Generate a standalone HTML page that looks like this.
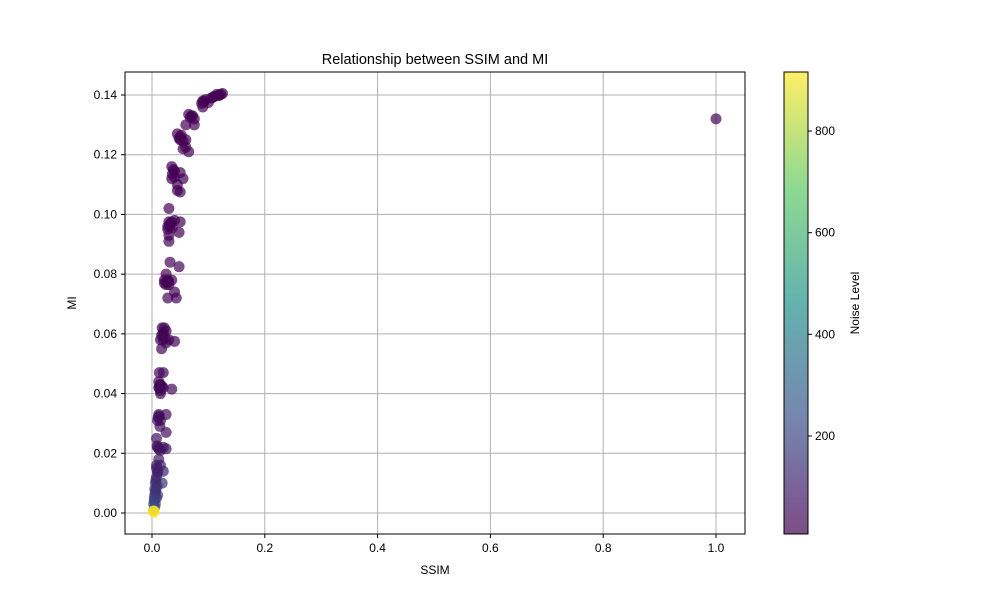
<!DOCTYPE html>
<html><head><meta charset="utf-8"><style>
body{margin:0;background:#fff;font-family:"Liberation Sans",sans-serif;}
</style></head><body>
<svg id="chart" width="1000" height="600" xmlns="http://www.w3.org/2000/svg">
<defs><linearGradient id="vir" x1="0" y1="1" x2="0" y2="0">
<stop offset="0" stop-color="#440154"/><stop offset="0.25" stop-color="#3b528b"/><stop offset="0.5" stop-color="#21918c"/><stop offset="0.75" stop-color="#5ec962"/><stop offset="1" stop-color="#fde725"/></linearGradient></defs>
<text x="435" y="64" font-size="14.5" text-anchor="middle">Relationship between SSIM and MI</text>
<g id="grid"></g>
<g id="pts"></g>
<rect x="125" y="72" width="620" height="462" fill="none" stroke="#000" stroke-width="1"/>
<g id="ticks" font-size="12"></g>
<text x="435" y="574" font-size="12" text-anchor="middle">SSIM</text>
<text x="76" y="303" font-size="12" text-anchor="middle" transform="rotate(-90 76 303)">MI</text>
<rect x="784" y="72" width="24" height="462" fill="url(#vir)" opacity="0.7"/>
<rect x="784" y="72" width="24" height="462" fill="none" stroke="#000" stroke-width="1"/>
<g id="cbticks" font-size="12"></g>
<text x="859" y="303" font-size="12" text-anchor="middle" transform="rotate(-90 859 303)">Noise Level</text>
</svg>
<script>
const ssim=[0.12,0.125,0.115,0.11,0.105,0.09,0.095,0.1,0.09,0.07,0.065,0.075,0.06,0.075,0.045,0.05,0.05,0.055,0.06,0.055,0.06,0.065,0.035,0.038,0.05,0.035,0.04,0.055,0.045,0.045,0.05,0.03,0.03,0.035,0.04,0.05,0.028,0.032,0.048,0.03,0.03,0.032,0.048,0.025,0.022,0.028,0.035,0.025,0.03,0.04,0.028,0.043,0.018,0.022,0.025,0.02,0.015,0.02,0.03,0.04,0.025,0.017,0.013,0.02,0.012,0.015,0.013,0.02,0.035,0.015,0.012,0.025,0.01,0.015,0.014,0.025,0.008,0.01,0.02,0.025,0.015,0.012,0.008,0.015,0.01,0.02,0.008,0.006,0.018,0.007,0.005,0.01,0.004,1.0,
0.118,0.122,0.108,0.092,0.088,0.068,0.072,0.048,0.052,0.036,0.04,0.033,0.028,0.032,0.036,0.022,0.026,0.03,0.017,0.02,0.023,0.014,0.017,0.012,0.015,0.011,0.013,0.009,0.012,0.008,0.01,0.007,0.009,0.006,0.005,0.008,0.004,0.006,0.003,0.005,0.003];
const mi=[0.140,0.1405,0.1402,0.1395,0.139,0.138,0.1385,0.1375,0.136,0.133,0.1335,0.132,0.130,0.130,0.127,0.126,0.125,0.1245,0.125,0.122,0.1225,0.121,0.116,0.115,0.114,0.112,0.1125,0.112,0.110,0.108,0.1075,0.102,0.0975,0.0975,0.098,0.0975,0.095,0.096,0.094,0.093,0.091,0.084,0.0825,0.080,0.078,0.078,0.078,0.0765,0.0765,0.074,0.072,0.072,0.062,0.062,0.061,0.060,0.058,0.058,0.058,0.0575,0.057,0.055,0.047,0.047,0.044,0.043,0.042,0.042,0.0415,0.040,0.033,0.033,0.031,0.031,0.029,0.027,0.025,0.022,0.022,0.0215,0.021,0.018,0.016,0.016,0.014,0.014,0.012,0.010,0.010,0.008,0.006,0.006,0.004,0.132,
0.1398,0.1402,0.1392,0.1378,0.1372,0.1325,0.133,0.1255,0.1265,0.1135,0.1145,0.097,0.096,0.0965,0.0955,0.077,0.0775,0.0775,0.0595,0.0605,0.0585,0.043,0.0425,0.042,0.041,0.032,0.0325,0.0225,0.0215,0.015,0.0135,0.011,0.009,0.007,0.008,0.005,0.005,0.003,0.003,0.002,0.001];
const noise=[5,5,5,5,5,5,5,5,5,8,8,8,8,8,8,8,8,8,8,8,8,8,10,10,10,10,10,10,10,10,10,12,12,12,12,12,12,12,12,12,12,15,15,15,15,15,15,15,15,15,15,15,20,20,20,20,20,20,20,20,20,20,25,25,25,25,25,25,25,25,35,35,40,40,40,40,50,60,60,60,60,80,90,90,100,100,120,140,140,150,170,170,190,20,
5,5,5,5,5,8,8,8,8,10,10,12,12,12,12,15,15,15,20,20,20,25,25,25,25,35,35,55,55,80,95,110,125,140,150,165,175,185,200,210,230];
const special=[[0.003,0.0005,915]];
const xTicks=[0,0.2,0.4,0.6,0.8,1.0];
const yTicks=[0,0.02,0.04,0.06,0.08,0.10,0.12,0.14];
const cTicks=[200,400,600,800];
const NS="http://www.w3.org/2000/svg";
const X=v=>152+v*564, Y=v=>513-v*2985.7, C=v=>436-(v-200)*0.5083;
const stops=[[68,1,84],[59,82,139],[33,145,140],[94,201,98],[253,231,37]];
function vir(v){let t=Math.max(0,Math.min(1,(v-7)/(916-7)))*4,i=Math.min(3,Math.floor(t)),f=t-i;
return 'rgb('+stops[i].map((c,k)=>Math.round(c+(stops[i+1][k]-c)*f)).join(',')+')';}
function el(tag,attrs,parent){const e=document.createElementNS(NS,tag);for(const k in attrs)e.setAttribute(k,attrs[k]);document.getElementById(parent).appendChild(e);return e;}
xTicks.forEach(t=>{const x=X(t);
const g=el('line',{x1:x,x2:x,y1:72,y2:534,stroke:'#b0b0b0','stroke-width':1},'grid');

el('line',{x1:x,x2:x,y1:534,y2:538,stroke:'#000'},'ticks');
const l=el('text',{x:x,y:552,'text-anchor':'middle'},'ticks');l.textContent=t.toFixed(1);
});
yTicks.forEach(t=>{const y=Y(t);
const g=el('line',{x1:125,x2:745,y1:y,y2:y,stroke:'#b0b0b0','stroke-width':1},'grid');

el('line',{x1:121,x2:125,y1:y,y2:y,stroke:'#000'},'ticks');
const l=el('text',{x:117,y:y+4,'text-anchor':'end'},'ticks');l.textContent=t.toFixed(2);
});
cTicks.forEach(t=>{const y=C(t);
el('line',{x1:808,x2:812,y1:y,y2:y,stroke:'#000'},'cbticks');
const l=el('text',{x:815,y:y+4},'cbticks');l.textContent=t;
});
ssim.forEach((s,i)=>{const p=el('circle',{cx:X(s),cy:Y(mi[i]),r:5.5,fill:vir(noise[i]),'fill-opacity':0.7},'pts');
});
special.forEach(d=>{const p=el('circle',{cx:X(d[0]),cy:Y(d[1]),r:6,fill:vir(d[2]),'fill-opacity':0.9},'pts');
});
</script>
</body></html>
